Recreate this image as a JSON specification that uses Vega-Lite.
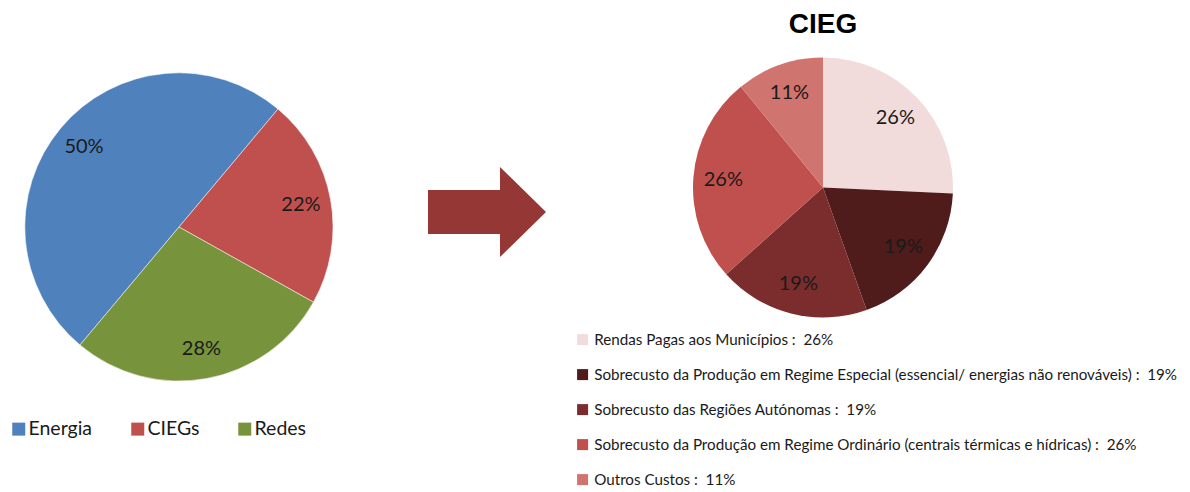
{
  "$schema": "https://vega.github.io/schema/vega-lite/v6.json",
  "padding": {"top": 11, "left": 0, "right": 0, "bottom": 0},
  "background": "white",
  "config": {"view": {"stroke": null}, "font": "Lato"},
  "datasets": {
    "mix": [
      {"cat": "Energia", "pct": 50, "txt": "50%", "i": 1},
      {"cat": "CIEGs", "pct": 22, "txt": "22%", "i": 2},
      {"cat": "Redes", "pct": 28, "txt": "28%", "i": 3}
    ],
    "cieg": [
      {"label": "Rendas Pagas aos Municípios : \u00a026%", "pct": 26, "txt": "26%", "i": 1},
      {"label": "Sobrecusto da Produção em Regime Especial (essencial/ energias não renováveis) : \u00a019%", "pct": 19, "txt": "19%", "i": 2},
      {"label": "Sobrecusto das Regiões Autónomas : \u00a019%", "pct": 19, "txt": "19%", "i": 3},
      {"label": "Sobrecusto da Produção em Regime Ordinário (centrais térmicas e hídricas) : \u00a026%", "pct": 26, "txt": "26%", "i": 4},
      {"label": "Outros Custos : \u00a011%", "pct": 11, "txt": "11%", "i": 5}
    ],
    "arrow": [{"item": "arrow"}]
  },
  "spacing": 70,
  "resolve": {"scale": {"color": "independent", "theta": "independent"}, "legend": {"color": "independent"}},
  "hconcat": [
    {
      "width": 358,
      "height": 356,
      "data": {"name": "mix"},
      "encoding": {
        "theta": {"field": "pct", "type": "quantitative", "stack": true, "scale": {"range": [3.8397, 10.1229], "nice": false}},
        "order": {"field": "i", "type": "quantitative"}
      },
      "layer": [
        {
          "mark": {"type": "arc", "outerRadius": 154, "stroke": "#ffffff", "strokeWidth": 0.5},
          "encoding": {
            "color": {
              "field": "cat", "type": "nominal",
              "scale": {"domain": ["Energia", "CIEGs", "Redes"], "range": ["#4F81BD", "#C0504D", "#77933C"]},
              "legend": {"title": null, "orient": "bottom", "direction": "horizontal", "symbolType": "square", "symbolSize": 169, "labelFontSize": 19.5, "labelColor": "#1a1a1a", "columnPadding": 35, "labelOffset": 0, "offset": 5, "padding": 9, "symbolStrokeWidth": 0}
            }
          }
        },
        {
          "mark": {"type": "text", "radius": 124, "fontSize": 20, "color": "#1a1a1a"},
          "encoding": {"text": {"field": "txt", "type": "nominal"}}
        }
      ]
    },
    {
      "spacing": 29,
      "resolve": {"scale": {"color": "independent", "theta": "independent"}, "legend": {"color": "independent"}},
      "hconcat": [
        {
          "width": 118,
          "height": 326,
          "data": {"name": "arrow"},
          "mark": {"type": "point", "shape": "M-1,-0.373L0.22,-0.373L0.22,-0.763L1,0L0.22,0.763L0.22,0.373L-1,0.373Z", "size": 13924, "filled": true, "color": "#953735", "opacity": 1, "strokeWidth": 0},
          "encoding": {}
        },
        {
          "width": 496,
          "height": 277,
          "title": {"text": "CIEG", "fontSize": 28, "font": "Liberation Sans", "fontWeight": "bold", "color": "#000000", "anchor": "middle", "offset": 10},
          "data": {"name": "cieg"},
          "encoding": {
            "theta": {"field": "pct", "type": "quantitative", "stack": true, "scale": {"nice": false}},
            "order": {"field": "i", "type": "quantitative"}
          },
          "layer": [
            {
              "mark": {"type": "arc", "outerRadius": 130},
              "encoding": {
                "color": {
                  "field": "label", "type": "nominal",
                  "scale": {
                    "domain": [
                      "Rendas Pagas aos Municípios : \u00a026%",
                      "Sobrecusto da Produção em Regime Especial (essencial/ energias não renováveis) : \u00a019%",
                      "Sobrecusto das Regiões Autónomas : \u00a019%",
                      "Sobrecusto da Produção em Regime Ordinário (centrais térmicas e hídricas) : \u00a026%",
                      "Outros Custos : \u00a011%"
                    ],
                    "range": ["#F2DCDB", "#4F1B1B", "#7B2D2D", "#C0504D", "#D07470"]
                  },
                  "legend": {"title": null, "orient": "bottom", "direction": "vertical", "symbolType": "square", "symbolSize": 121, "labelFontSize": 15.2, "labelColor": "#1a1a1a", "labelLimit": 1000, "rowPadding": 19, "labelOffset": 4, "offset": 6, "padding": 0, "symbolStrokeWidth": 0}
                }
              }
            },
            {
              "mark": {"type": "text", "radius": 100, "fontSize": 20, "color": "#1a1a1a"},
              "encoding": {"text": {"field": "txt", "type": "nominal"}}
            }
          ]
        }
      ]
    }
  ]
}
